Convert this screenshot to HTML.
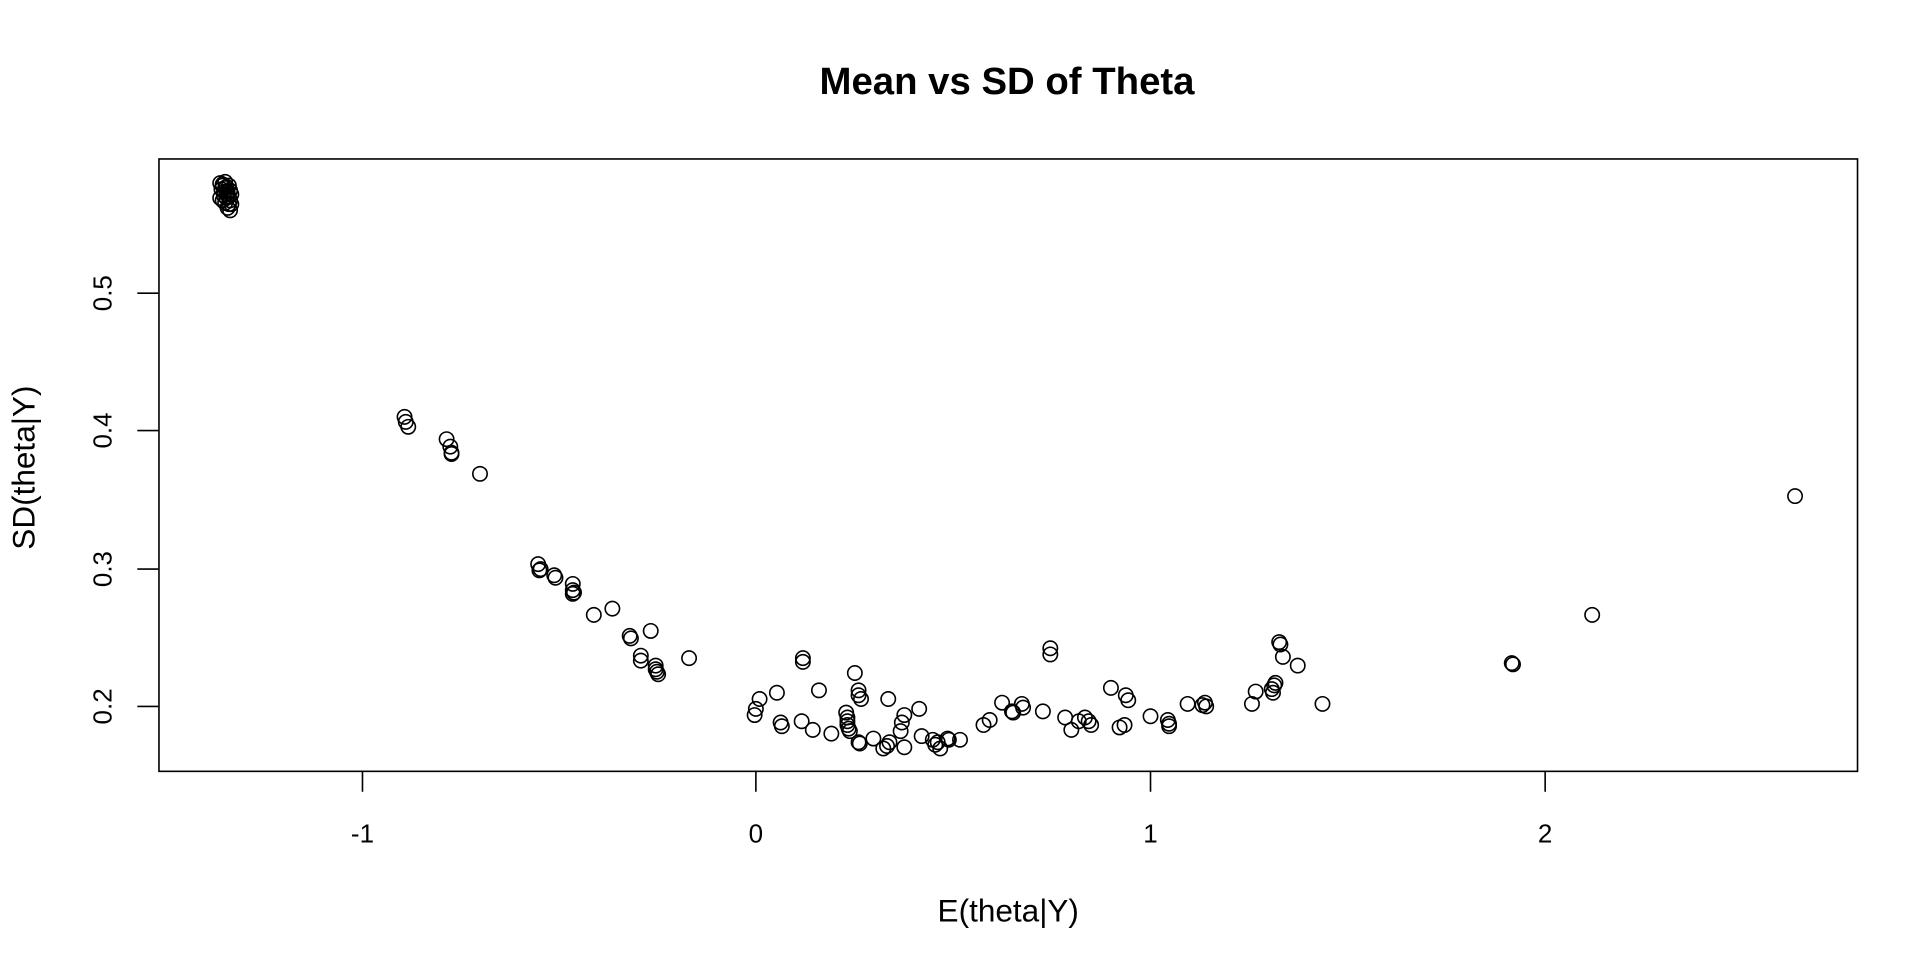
<!DOCTYPE html>
<html><head><meta charset="utf-8"><style>html,body{margin:0;padding:0;background:#fff}svg{display:block}</style></head>
<body>
<svg width="1920" height="960" viewBox="0 0 1552 776" xmlns="http://www.w3.org/2000/svg" font-family="Liberation Sans, sans-serif">
<rect width="1552" height="776" fill="#fff"/>
<text x="814" y="76" text-anchor="middle" font-size="31" font-weight="bold">Mean vs SD of Theta</text>
<rect x="128.5" y="128.5" width="1373" height="495" fill="none" stroke="#000" stroke-width="1.3"/>
<g stroke="#000" stroke-width="1.3">
<line x1="293" y1="623" x2="293" y2="640"/><line x1="611" y1="623" x2="611" y2="640"/><line x1="930" y1="623" x2="930" y2="640"/><line x1="1249" y1="623" x2="1249" y2="640"/>
<line x1="128" y1="571" x2="111" y2="571"/><line x1="128" y1="460" x2="111" y2="460"/><line x1="128" y1="348" x2="111" y2="348"/><line x1="128" y1="237" x2="111" y2="237"/>
</g>
<g font-size="21" text-anchor="middle">
<text x="293" y="681">-1</text><text x="611" y="681">0</text><text x="930" y="681">1</text><text x="1249" y="681">2</text>
<text transform="translate(90,571) rotate(-90)">0.2</text>
<text transform="translate(90,460) rotate(-90)">0.3</text>
<text transform="translate(90,348) rotate(-90)">0.4</text>
<text transform="translate(90,237) rotate(-90)">0.5</text>
</g>
<g font-size="25.5" text-anchor="middle">
<text x="815" y="745">E(theta|Y)</text>
<text transform="translate(28,378) rotate(-90)">SD(theta|Y)</text>
</g>
<g fill="none" stroke="#000" stroke-width="1.3">
<circle cx="178" cy="148" r="5.8"/><circle cx="180" cy="150" r="5.8"/><circle cx="182" cy="152" r="5.8"/><circle cx="184" cy="155" r="5.8"/><circle cx="181" cy="158" r="5.8"/><circle cx="183" cy="160" r="5.8"/><circle cx="186" cy="162" r="5.8"/><circle cx="185" cy="165" r="5.8"/><circle cx="184" cy="168" r="5.8"/><circle cx="186" cy="170" r="5.8"/><circle cx="180" cy="162" r="5.8"/><circle cx="187" cy="157" r="5.8"/><circle cx="179" cy="153" r="5.8"/><circle cx="182" cy="147" r="5.8"/><circle cx="185" cy="150" r="5.8"/><circle cx="181" cy="155" r="5.8"/><circle cx="183" cy="157" r="5.8"/><circle cx="186" cy="154" r="5.8"/><circle cx="178" cy="160" r="5.8"/><circle cx="182" cy="164" r="5.8"/><circle cx="187" cy="165" r="5.8"/><circle cx="180" cy="149" r="5.8"/><circle cx="183" cy="151" r="5.8"/><circle cx="185" cy="159" r="5.8"/>
<circle cx="327" cy="337" r="5.8"/><circle cx="328" cy="341" r="5.8"/><circle cx="330" cy="345" r="5.8"/><circle cx="361" cy="355" r="5.8"/><circle cx="364" cy="361" r="5.8"/><circle cx="365" cy="366" r="5.8"/><circle cx="365" cy="367" r="5.8"/><circle cx="388" cy="383" r="5.8"/>
<circle cx="435" cy="456" r="5.8"/><circle cx="437" cy="460" r="5.8"/><circle cx="436" cy="461" r="5.8"/><circle cx="448" cy="465" r="5.8"/><circle cx="449" cy="467" r="5.8"/><circle cx="463" cy="472" r="5.8"/><circle cx="463" cy="477" r="5.8"/><circle cx="464" cy="479" r="5.8"/><circle cx="463" cy="480" r="5.8"/><circle cx="480" cy="497" r="5.8"/><circle cx="495" cy="492" r="5.8"/><circle cx="509" cy="514" r="5.8"/><circle cx="510" cy="516" r="5.8"/><circle cx="526" cy="510" r="5.8"/>
<circle cx="518" cy="530" r="5.8"/><circle cx="518" cy="534" r="5.8"/><circle cx="530" cy="538" r="5.8"/><circle cx="530" cy="541" r="5.8"/><circle cx="531" cy="543" r="5.8"/><circle cx="532" cy="545" r="5.8"/><circle cx="557" cy="532" r="5.8"/>
<circle cx="610" cy="578" r="5.8"/><circle cx="611" cy="573" r="5.8"/><circle cx="614" cy="565" r="5.8"/><circle cx="628" cy="560" r="5.8"/><circle cx="631" cy="584" r="5.8"/><circle cx="632" cy="587" r="5.8"/><circle cx="648" cy="583" r="5.8"/><circle cx="649" cy="532" r="5.8"/><circle cx="649" cy="535" r="5.8"/><circle cx="657" cy="590" r="5.8"/><circle cx="662" cy="558" r="5.8"/><circle cx="672" cy="593" r="5.8"/>
<circle cx="684" cy="576" r="5.8"/><circle cx="685" cy="580" r="5.8"/><circle cx="685" cy="583" r="5.8"/><circle cx="685" cy="586" r="5.8"/><circle cx="686" cy="589" r="5.8"/><circle cx="687" cy="591" r="5.8"/><circle cx="691" cy="544" r="5.8"/><circle cx="694" cy="558" r="5.8"/><circle cx="694" cy="562" r="5.8"/><circle cx="696" cy="565" r="5.8"/><circle cx="694" cy="600" r="5.8"/><circle cx="695" cy="601" r="5.8"/><circle cx="706" cy="597" r="5.8"/><circle cx="714" cy="605" r="5.8"/><circle cx="717" cy="603" r="5.8"/><circle cx="718" cy="565" r="5.8"/><circle cx="719" cy="600" r="5.8"/><circle cx="728" cy="591" r="5.8"/><circle cx="729" cy="584" r="5.8"/><circle cx="731" cy="578" r="5.8"/><circle cx="731" cy="604" r="5.8"/><circle cx="743" cy="573" r="5.8"/><circle cx="745" cy="595" r="5.8"/><circle cx="754" cy="598" r="5.8"/><circle cx="756" cy="602" r="5.8"/><circle cx="758" cy="600" r="5.8"/><circle cx="760" cy="605" r="5.8"/><circle cx="766" cy="597" r="5.8"/><circle cx="767" cy="598" r="5.8"/><circle cx="776" cy="598" r="5.8"/>
<circle cx="795" cy="586" r="5.8"/><circle cx="800" cy="582" r="5.8"/><circle cx="810" cy="568" r="5.8"/><circle cx="818" cy="575" r="5.8"/><circle cx="819" cy="576" r="5.8"/><circle cx="826" cy="569" r="5.8"/><circle cx="827" cy="572" r="5.8"/><circle cx="843" cy="575" r="5.8"/><circle cx="849" cy="524" r="5.8"/><circle cx="849" cy="529" r="5.8"/><circle cx="861" cy="580" r="5.8"/><circle cx="866" cy="590" r="5.8"/><circle cx="872" cy="583" r="5.8"/><circle cx="877" cy="580" r="5.8"/><circle cx="880" cy="583" r="5.8"/><circle cx="882" cy="586" r="5.8"/><circle cx="898" cy="556" r="5.8"/><circle cx="905" cy="588" r="5.8"/><circle cx="909" cy="586" r="5.8"/><circle cx="910" cy="562" r="5.8"/><circle cx="912" cy="566" r="5.8"/><circle cx="930" cy="579" r="5.8"/><circle cx="944" cy="582" r="5.8"/><circle cx="945" cy="585" r="5.8"/><circle cx="945" cy="587" r="5.8"/><circle cx="960" cy="569" r="5.8"/><circle cx="972" cy="570" r="5.8"/><circle cx="974" cy="568" r="5.8"/><circle cx="975" cy="571" r="5.8"/><circle cx="1012" cy="569" r="5.8"/><circle cx="1015" cy="559" r="5.8"/><circle cx="1028" cy="557" r="5.8"/><circle cx="1029" cy="560" r="5.8"/><circle cx="1030" cy="554" r="5.8"/><circle cx="1031" cy="552" r="5.8"/><circle cx="1034" cy="519" r="5.8"/><circle cx="1035" cy="521" r="5.8"/><circle cx="1037" cy="531" r="5.8"/><circle cx="1049" cy="538" r="5.8"/><circle cx="1069" cy="569" r="5.8"/><circle cx="1222" cy="536" r="5.8"/><circle cx="1223" cy="537" r="5.8"/><circle cx="1287" cy="497" r="5.8"/><circle cx="1451" cy="401" r="5.8"/>
</g>
</svg>
</body></html>
